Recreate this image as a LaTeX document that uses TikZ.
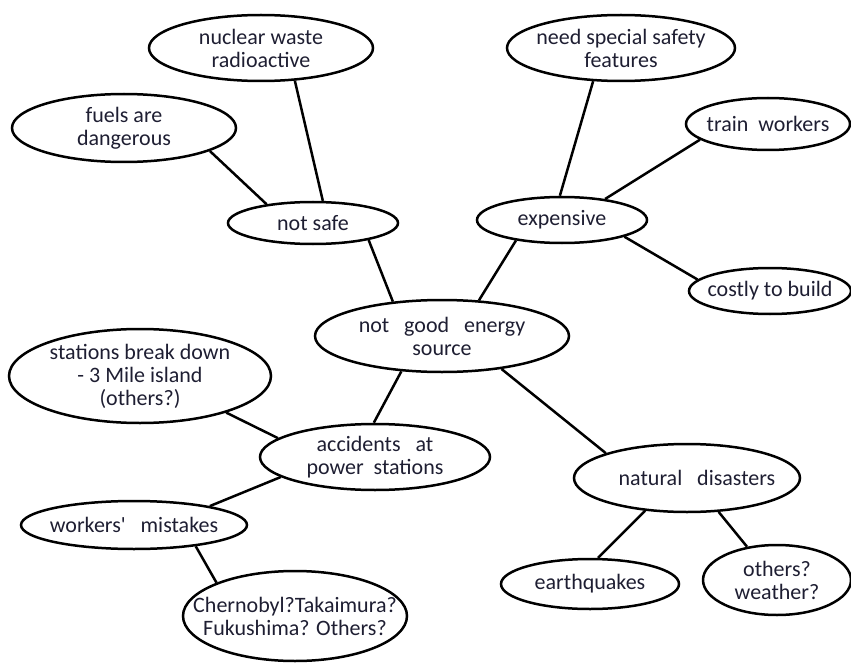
\documentclass[tikz,border=0pt]{standalone}
\usepackage{fontspec}
\setmainfont{Carlito}
\usepackage{xcolor}
\definecolor{Black}{RGB}{0,0,0}
\definecolor{Ink}{RGB}{30,30,50}
\usetikzlibrary{shapes.geometric}
\tikzset{
	bubble/.style={ellipse, draw=Black, line width=2.5pt, inner xsep=-30pt, inner ysep=-6pt, align=center, text=Ink, font=\fontsize{22}{23}\selectfont},
	link/.style={draw=Black, line width=2.5pt}
}

\begin{document}
\begin{tikzpicture}[x=1pt, y=-1pt]
		
		\useasboundingbox (0,0) rectangle (851,663);
		
		% Centre
		\node[bubble, minimum width=254pt, minimum height=72pt] (source) at (442,336) {not~~ good~~ energy\\source};
		
		% Not safe
		\node[bubble, minimum width=170pt, minimum height=42pt] (notsafe) at (313,223) {not safe};
		\node[bubble, minimum width=224pt, minimum height=66pt] (waste) at (261,48) {nuclear waste\\radioactive};
		\node[bubble, minimum width=224pt, minimum height=68pt] (fuels) at (124,128) {fuels are\\dangerous};
		
		% Expensive
		\node[bubble, minimum width=170pt, minimum height=46pt] (expensive) at (562,220) {expensive};
		\node[bubble, minimum width=228pt, minimum height=66pt] (safety) at (621,48) {need special safety\\features};
		\node[bubble, minimum width=164pt, minimum height=52pt] (train) at (768,124) {train~ workers};
		\node[bubble, minimum width=162pt, minimum height=46pt] (costly) at (770,291) {costly to build};
		
		% Accidents
		\node[bubble, minimum width=230pt, minimum height=66pt] (accidents) at (375,457) {accidents~~ at\\power~ stations};
		\node[bubble, minimum width=262pt, minimum height=94pt] (stations) at (140,376) {stations break down\\- 3 Mile island\\(others?)};
		\node[bubble, minimum width=226pt, minimum height=48pt] (mistakes) at (134,525) {workers\textquotesingle~~ mistakes};
		\node[bubble, minimum width=224pt, minimum height=90pt] (chernobyl) at (295,616) {Chernobyl?Takaimura?\\Fukushima? Others?};
		
		% Natural disasters
		\node[bubble, minimum width=226pt, minimum height=68pt] (natural) at (687,478) {\hspace*{20pt}natural~~ disasters};
		\node[bubble, minimum width=178pt, minimum height=50pt] (quakes) at (590,584) {earthquakes};
		\node[bubble, minimum width=148pt, minimum height=70pt] (weather) at (777,580) {others?\\weather?};
		
		% Links
		\draw[link] (source.145) -- (notsafe.-17);
		\draw[link] (notsafe.66) -- (waste.-44);
		\draw[link] (notsafe.158) -- (fuels.-15);
		
		\draw[link] (source.44) -- (expensive.-156);
		\draw[link] (expensive.95) -- (safety.-130);
		\draw[link] (expensive.26) -- (train.-167);
		\draw[link] (expensive.-15) -- (costly.171);
		
		\draw[link] (source.-139) -- (accidents.92);
		\draw[link] (accidents.169) -- (stations.-23);
		\draw[link] (accidents.-168) -- (mistakes.14);
		\draw[link] (mistakes.-19) -- (chernobyl.157);
		
		\draw[link] (source.-29) -- (natural.163);
		\draw[link] (natural.-142) -- (quakes.73);
		\draw[link] (natural.-47) -- (weather.132);
		
\end{tikzpicture}
\end{document}
